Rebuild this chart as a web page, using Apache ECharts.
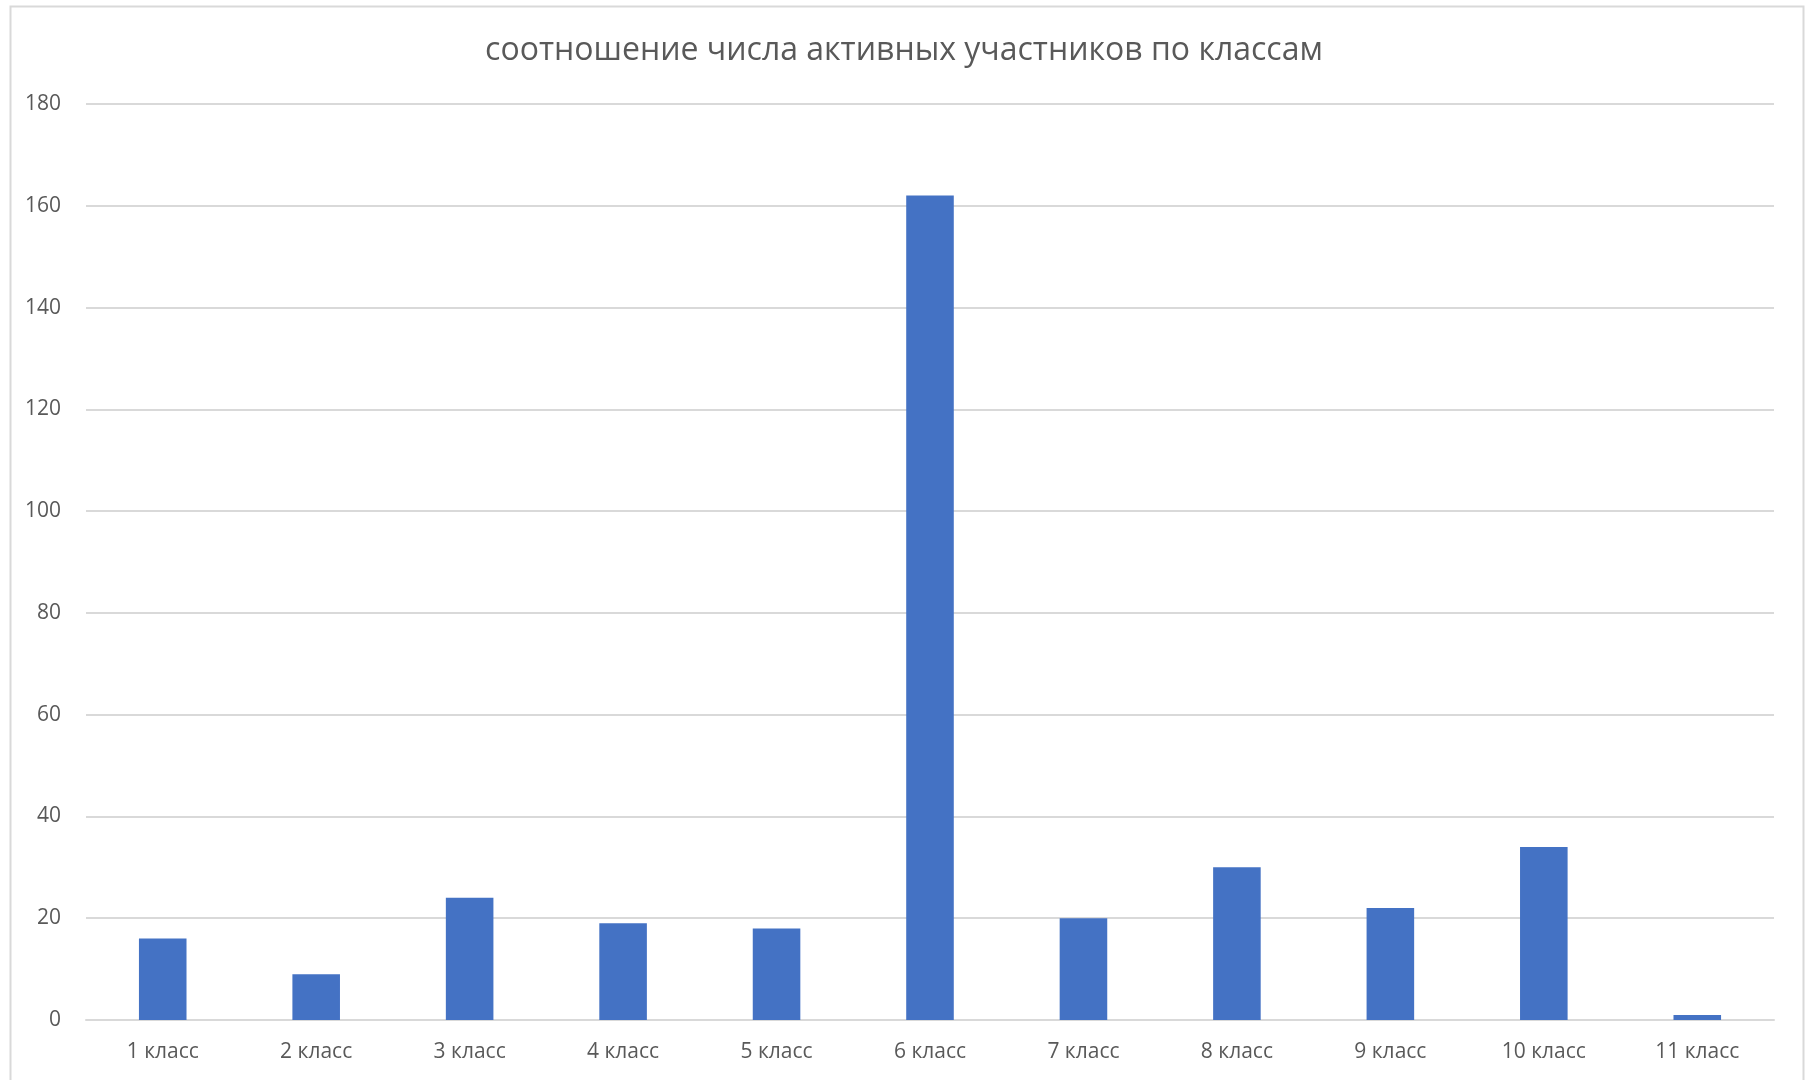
<!DOCTYPE html>
<html>
<head>
<meta charset="utf-8">
<script src="https://cdn.jsdelivr.net/npm/echarts@6/dist/echarts.min.js"></script>
<style>
html,body{margin:0;padding:0;background:#fff;}
#main{width:1808px;height:1080px;}
</style>
</head>
<body>
<div id="main"></div>
<script>
const titleText = 'соотношение числа активных участников по классам';
const categories = ['1 класс','2 класс','3 класс','4 класс','5 класс','6 класс','7 класс','8 класс','9 класс','10 класс','11 класс'];
const values = [16, 9, 24, 19, 18, 162, 20, 30, 22, 34, 1];
const yTicks = { min: 0, max: 180, interval: 20 };

const chart = echarts.init(document.getElementById('main'));
const font = '"Open Sans", "Noto Sans", sans-serif';
chart.setOption({
  animation: false,
  backgroundColor: '#ffffff',
  graphic: [{
    type: 'rect', left: 8, top: 4,
    shape: { width: 1793, height: 1090 },
    style: { fill: 'none', stroke: '#d9d9d9', lineWidth: 2 },
    silent: true
  }],
  title: {
    text: titleText, left: 'center', top: 30,
    textStyle: { fontFamily: font, fontSize: 32, fontWeight: 'normal', color: '#595959' }
  },
  grid: { left: 86, right: 34, top: 104, bottom: 60, containLabel: false },
  xAxis: {
    type: 'category', data: categories,
    axisLine: { lineStyle: { color: '#d9d9d9', width: 2 } },
    axisTick: { show: false },
    axisLabel: { fontFamily: font, fontSize: 21, color: '#595959', margin: 22 }
  },
  yAxis: {
    type: 'value', min: yTicks.min, max: yTicks.max, interval: yTicks.interval,
    axisLine: { show: false }, axisTick: { show: false },
    splitLine: { lineStyle: { color: '#d9d9d9', width: 2 } },
    axisLabel: { fontFamily: font, fontSize: 21, color: '#595959', margin: 25 }
  },
  series: [{
    type: 'bar', data: values, barWidth: '31%',
    itemStyle: { color: '#4472c4' }
  }]
});
</script>
</body>
</html>
